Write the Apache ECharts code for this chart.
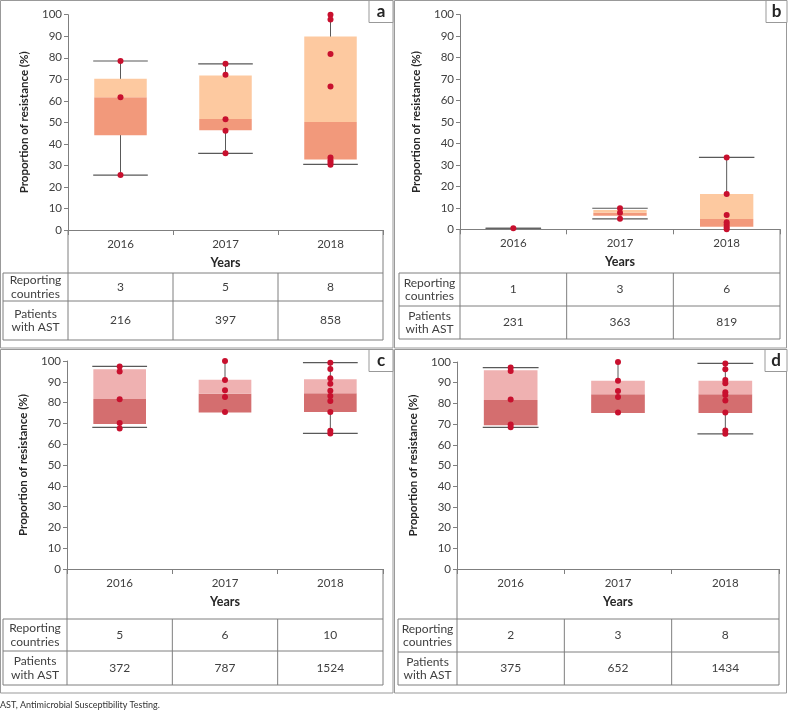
<!DOCTYPE html>
<html>
<head>
<meta charset="utf-8">
<script src="https://cdn.jsdelivr.net/npm/echarts@6/dist/echarts.min.js"></script>
<style>
  html, body { margin: 0; padding: 0; background: #fff; }
  #chart { width: 788px; height: 711px; }
</style>
</head>
<body>
<div id="chart"></div>
<script>
const years = ['2016', '2017', '2018'];

// panel a
const aMin = [25.5, 35.6, 30.5];
const aQ1 = [44.0, 46.3, 32.7];
const aMed = [61.7, 51.5, 50.2];
const aQ3 = [70.3, 71.8, 89.9];
const aMax = [78.5, 77.2, 100];
const aCapHi = [78.5, 77.2, null];
const aCapLo = [25.5, 35.6, 30.5];
const aPoints = [[78.5, 61.7, 25.5], [77.2, 72.1, 51.4, 46.1, 35.6], [100, 97.8, 81.7, 66.7, 33.7, 32.4, 31.3, 30.3]];
const aCountries = [3, 5, 8];
const aPatients = [216, 397, 858];

// panel b
const bMin = [0.5, 4.9, 0];
const bQ1 = [0.5, 6.3, 1.2];
const bMed = [0.5, 7.7, 4.8];
const bQ3 = [0.5, 9.0, 16.4];
const bMax = [0.5, 9.8, 33.5];
const bCapHi = [0.5, 9.8, 33.5];
const bCapLo = [0.5, 4.9, null];
const bPoints = [[0.5], [9.8, 7.7, 4.9], [33.5, 16.5, 6.7, 3.3, 2.1, 0.9, 0]];
const bCountries = [1, 3, 6];
const bPatients = [231, 363, 819];

// panel c
const cMin = [68.1, 75.2, 65.2];
const cQ1 = [69.7, 75.2, 75.5];
const cMed = [81.7, 84.3, 84.5];
const cQ3 = [96.0, 91.0, 91.2];
const cMax = [97.4, 100, 99.2];
const cCapHi = [97.4, null, 99.2];
const cCapLo = [68.1, null, 65.2];
const cPoints = [[97.4, 94.9, 81.6, 70.2, 67.6], [100, 90.9, 85.9, 82.7, 75.5], [99.2, 96.2, 91.7, 89.1, 85.7, 83.2, 80.8, 75.5, 66.5, 65.2]];
const cCountries = [5, 6, 10];
const cPatients = [372, 787, 1524];

// panel d
const dMin = [68.4, 75.4, 65.3];
const dQ1 = [69.5, 75.4, 75.4];
const dMed = [81.7, 84.4, 84.4];
const dQ3 = [96.0, 91.0, 91.0];
const dMax = [97.3, 100, 99.3];
const dCapHi = [97.3, null, 99.3];
const dCapLo = [68.4, null, 65.3];
const dPoints = [[97.3, 95.7, 81.9, 69.8, 68.5], [100, 91.0, 86.0, 83.1, 75.6], [99.3, 96.5, 91.3, 89.7, 85.4, 84.1, 81.4, 75.6, 66.9, 65.3]];
const dCountries = [2, 3, 8];
const dPatients = [375, 652, 1434];

const rowLabels = ['Reporting\ncountries', 'Patients\nwith AST'];
const panelLetters = ['a', 'b', 'c', 'd'];

const FONT = 'Lato, "Open Sans", sans-serif';
const orange = ['#FDC9A0', '#F2997B'];
const rose = ['#EFB1B1', '#D46E6F'];

const panels = [
  { stats: [aMin, aQ1, aMed, aQ3, aMax, aCapHi, aCapLo], pts: aPoints, rows: [aCountries, aPatients], col: orange,
    box: [0.5, 0.5, 392.5, 347.5], grid: { left: 68, top: 14.7, width: 315, height: 215.3 }, tx0: 3, ty: [273, 301, 340], tag: [369, 0.5, 24, 22] },
  { stats: [bMin, bQ1, bMed, bQ3, bMax, bCapHi, bCapLo], pts: bPoints, rows: [bCountries, bPatients], col: orange,
    box: [394.5, 0.5, 392, 347.5], grid: { left: 460, top: 14.7, width: 320, height: 214.6 }, tx0: 399, ty: [273, 306, 339], tag: [766, 0.5, 21, 22] },
  { stats: [cMin, cQ1, cMed, cQ3, cMax, cCapHi, cCapLo], pts: cPoints, rows: [cCountries, cPatients], col: rose,
    box: [0.5, 349.5, 392.5, 343.5], grid: { left: 67, top: 361, width: 316, height: 208 }, tx0: 3, ty: [619, 651, 685], tag: [369, 349.5, 24, 22] },
  { stats: [dMin, dQ1, dMed, dQ3, dMax, dCapHi, dCapLo], pts: dPoints, rows: [dCountries, dPatients], col: rose,
    box: [394.5, 349.5, 392, 343.5], grid: { left: 457, top: 362, width: 322, height: 207 }, tx0: 398, ty: [619, 652, 685], tag: [765, 349.5, 22, 22] }
];

const grids = [], xAxes = [], yAxes = [], series = [], graphics = [];
const lineCol = '#7f7f7f';

panels.forEach((p, k) => {
  grids.push(Object.assign({ outerBoundsMode: 'none', containLabel: false }, p.grid));
  xAxes.push({
    type: 'category', gridIndex: k, data: years,
    axisLine: { lineStyle: { color: lineCol } },
    axisTick: { show: true, length: 5, lineStyle: { color: lineCol } },
    axisLabel: { color: '#404040', fontFamily: FONT, fontSize: 11.5, margin: 8 },
    name: 'Years', nameLocation: 'middle', nameGap: 26,
    nameTextStyle: { color: '#262626', fontFamily: FONT, fontSize: 12.5, fontWeight: 'bold' }
  });
  yAxes.push({
    type: 'value', gridIndex: k, min: 0, max: 100, interval: 10,
    axisLine: { show: true, lineStyle: { color: lineCol } },
    axisTick: { show: true, length: 4, lineStyle: { color: lineCol } },
    splitLine: { show: false },
    axisLabel: { color: '#404040', fontFamily: FONT, fontSize: 11.5, margin: 6 },
    name: 'Proportion of resistance (%)', nameLocation: 'middle', nameGap: 38,
    nameTextStyle: { color: '#262626', fontFamily: FONT, fontSize: 11.5, fontWeight: 'bold' }
  });

  const [mn, q1, md, q3, mx, capHi, capLo] = p.stats;
  series.push({
    type: 'custom', xAxisIndex: k, yAxisIndex: k, z: 2,
    data: years.map((y, i) => [i, md[i]]),
    renderItem: (params, api) => {
      const i = params.dataIndex;
      const bw = api.size([1, 0])[0];
      const cx = api.coord([i, 0])[0];
      const hw = bw * 0.25, cw = bw * 0.26;
      const y = v => api.coord([i, v])[1];
      const kids = [];
      kids.push({ type: 'line', shape: { x1: cx, y1: y(mn[i]), x2: cx, y2: y(mx[i]) }, style: { stroke: '#595959', lineWidth: 1 } });
      if (md[i] > q1[i]) kids.push({ type: 'rect', shape: { x: cx - hw, y: y(md[i]), width: 2 * hw, height: y(q1[i]) - y(md[i]) }, style: { fill: p.col[1] } });
      if (q3[i] > md[i]) kids.push({ type: 'rect', shape: { x: cx - hw, y: y(q3[i]), width: 2 * hw, height: y(md[i]) - y(q3[i]) }, style: { fill: p.col[0] } });
      [capHi[i], capLo[i]].forEach(c => {
        if (c !== null) kids.push({ type: 'line', shape: { x1: cx - cw, y1: y(c), x2: cx + cw, y2: y(c) }, style: { stroke: '#595959', lineWidth: 1.2 } });
      });
      return { type: 'group', children: kids };
    }
  });
  const pts = [];
  p.pts.forEach((arr, i) => arr.forEach(v => pts.push([i, v])));
  series.push({
    type: 'scatter', xAxisIndex: k, yAxisIndex: k, z: 5,
    symbolSize: 6, itemStyle: { color: '#C8102E', opacity: 1 },
    data: pts
  });

  // panel frame and tag
  graphics.push({ type: 'rect', shape: { x: p.box[0], y: p.box[1], width: p.box[2], height: p.box[3] }, style: { fill: 'none', stroke: '#999', lineWidth: 1 } });
  graphics.push({ type: 'rect', shape: { x: p.tag[0], y: p.tag[1], width: p.tag[2], height: p.tag[3] }, style: { fill: '#fff', stroke: '#999', lineWidth: 1 } });
  graphics.push({ type: 'text', x: p.tag[0] + p.tag[2] / 2, y: p.tag[1] + p.tag[3] / 2,
    style: { text: panelLetters[k], fontFamily: FONT, fontSize: 17, fontWeight: 'bold', fill: '#262626', align: 'center', verticalAlign: 'middle' } });

  // table below the axis
  const gl = p.grid.left, gr = p.grid.left + p.grid.width, gb = p.grid.top + p.grid.height;
  const colW = p.grid.width / years.length;
  const seg = (x1, y1, x2, y2) => graphics.push({ type: 'line', shape: { x1, y1, x2, y2 }, style: { stroke: lineCol, lineWidth: 1 } });
  seg(gl, gb, gl, p.ty[2]);
  seg(gr, gb, gr, p.ty[2]);
  p.ty.forEach(t => seg(p.tx0, t, gr, t));
  seg(p.tx0, p.ty[0], p.tx0, p.ty[2]);
  for (let i = 1; i < years.length; i++) seg(gl + colW * i, p.ty[0], gl + colW * i, p.ty[2]);
  rowLabels.forEach((lab, r) => {
    const cy = (p.ty[r] + p.ty[r + 1]) / 2;
    graphics.push({ type: 'text', x: (p.tx0 + gl) / 2, y: cy,
      style: { text: lab, fontFamily: FONT, fontSize: 12, lineHeight: 13.5, fill: '#404040', align: 'center', verticalAlign: 'middle' } });
    p.rows[r].forEach((v, i) => {
      graphics.push({ type: 'text', x: gl + colW * (i + 0.5), y: cy,
        style: { text: String(v), fontFamily: FONT, fontSize: 12, fill: '#404040', align: 'center', verticalAlign: 'middle' } });
    });
  });
});

graphics.push({ type: 'text', x: 0, y: 705,
  style: { text: 'AST, Antimicrobial Susceptibility Testing.', fontFamily: FONT, fontSize: 9, fill: '#333', verticalAlign: 'middle' } });

const chart = echarts.init(document.getElementById('chart'), null, { renderer: 'canvas' });
chart.setOption({
  animation: false,
  backgroundColor: '#fff',
  grid: grids,
  xAxis: xAxes,
  yAxis: yAxes,
  series: series,
  graphic: { elements: graphics }
});
</script>
</body>
</html>
